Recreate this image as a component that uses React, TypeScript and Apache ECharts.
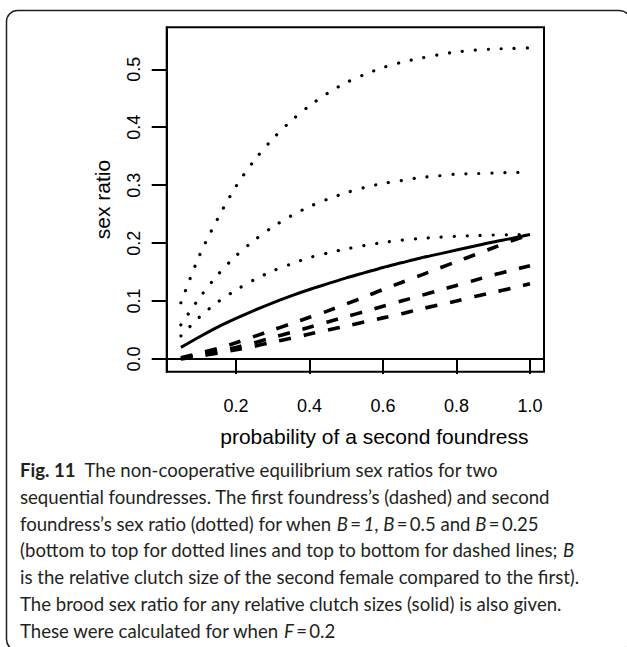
import React, { useEffect, useRef } from "react";
import * as echarts from "echarts";

const xValues = [0.05, 0.1, 0.15, 0.2, 0.25, 0.3, 0.35, 0.4, 0.45, 0.5, 0.55, 0.6, 0.65, 0.7, 0.75, 0.8, 0.85, 0.9, 0.95, 1.0];

// second foundress (dotted): B = 0.25 (top), 0.5, 1 (bottom)
const dottedTop = [0.097, 0.178, 0.242, 0.298, 0.343, 0.38, 0.411, 0.437, 0.459, 0.477, 0.491, 0.503, 0.512, 0.519, 0.525, 0.53, 0.533, 0.535, 0.536, 0.537];
const dottedMid = [0.059, 0.105, 0.145, 0.178, 0.205, 0.228, 0.247, 0.263, 0.276, 0.287, 0.296, 0.303, 0.308, 0.313, 0.316, 0.319, 0.32, 0.321, 0.322, 0.322];
const dottedLow = [0.04, 0.072, 0.098, 0.119, 0.137, 0.152, 0.164, 0.175, 0.183, 0.19, 0.196, 0.201, 0.205, 0.208, 0.21, 0.212, 0.213, 0.214, 0.2145, 0.215];
// brood (solid)
const solidBrood = [0.02, 0.038, 0.055, 0.07, 0.084, 0.097, 0.109, 0.12, 0.13, 0.14, 0.149, 0.158, 0.166, 0.174, 0.181, 0.188, 0.195, 0.202, 0.208, 0.215];
// first foundress (dashed): B = 1 (top), 0.5, 0.25 (bottom)
const dashedTop = [0.002, 0.01, 0.018, 0.028, 0.039, 0.05, 0.061, 0.072, 0.083, 0.095, 0.107, 0.12, 0.132, 0.144, 0.156, 0.168, 0.18, 0.192, 0.204, 0.215];
const dashedMid = [0.001, 0.006, 0.013, 0.02, 0.028, 0.037, 0.046, 0.055, 0.064, 0.073, 0.082, 0.091, 0.1, 0.109, 0.118, 0.127, 0.136, 0.145, 0.153, 0.161];
const dashedLow = [0.0, 0.005, 0.01, 0.016, 0.022, 0.029, 0.036, 0.043, 0.05, 0.057, 0.064, 0.071, 0.078, 0.086, 0.093, 0.1, 0.108, 0.115, 0.122, 0.13];

const xTicks = [0.2, 0.4, 0.6, 0.8, 1.0];
const yTicks = [0.0, 0.1, 0.2, 0.3, 0.4, 0.5];

const xTitle = "probability of a second foundress";
const yTitle = "sex ratio";

const captionLines = [
  "{b|Fig. 11}  The non-cooperative equilibrium sex ratios for two",
  "sequential foundresses. The first foundress\u2019s (dashed) and second",
  "foundress\u2019s sex ratio (dotted) for when {i|B}\u2009=\u2009{i|1}, {i|B}\u2009=\u20090.5 and {i|B}\u2009=\u20090.25",
  "(bottom to top for dotted lines and top to bottom for dashed lines; {i|B}",
  "is the relative clutch size of the second female compared to the first).",
  "The brood sex ratio for any relative clutch sizes (solid) is also given.",
  "These were calculated for when {i|F}\u2009=\u20090.2",
];

const toPairs = (ys: number[]) => xValues.map((x, i) => [x, ys[i]]);

const AXIS_FONT = "'Liberation Sans', Arial, sans-serif";
const CAP_FONT = "Lato, 'Open Sans', sans-serif";
const CAP_SIZE = 18.6;

export default function App() {
  const ref = useRef<HTMLDivElement>(null);
  useEffect(() => {
    document.body.style.margin = "0";
    const chart = echarts.init(ref.current!, undefined, { renderer: "svg" });
    const dotted = { color: "#000", width: 3.2, type: [0.1, 12.9], cap: "round" as const };
    const dashed = { color: "#000", width: 3.6, type: [12, 13], cap: "butt" as const };
    const mk = (name: string, ys: number[], lineStyle: any) => ({
      name,
      type: "line",
      data: toPairs(ys),
      showSymbol: false,
      symbol: "none",
      smooth: 0.3,
      lineStyle,
      z: 3,
    });
    const capRich = {
      b: { fontFamily: CAP_FONT, fontSize: CAP_SIZE, fontWeight: "bold", fill: "#231f20" },
      i: { fontFamily: CAP_FONT, fontSize: CAP_SIZE, fontStyle: "italic", fill: "#231f20" },
    };
    chart.setOption({
      animation: false,
      backgroundColor: "#fff",
      grid: {
        left: 166.7,
        top: 27.3,
        width: 377.3,
        height: 344.4,
        show: true,
        borderColor: "#000",
        borderWidth: 2,
        backgroundColor: "transparent",
        containLabel: false,
      },
      xAxis: {
        type: "value",
        min: 0.0114,
        max: 1.0381,
        name: xTitle,
        nameLocation: "middle",
        nameGap: 54,
        nameTextStyle: { fontFamily: AXIS_FONT, fontSize: 21, color: "#000", padding: [0, 0, 0, 38] },
        axisLine: { show: true, lineStyle: { color: "#000", width: 2 } },
        axisTick: { show: true, length: 15, lineStyle: { color: "#000", width: 2 }, customValues: xTicks },
        axisLabel: {
          show: true,
          customValues: xTicks,
          margin: 25,
          fontFamily: AXIS_FONT,
          fontSize: 18,
          color: "#000",
          formatter: (v: number) => v.toFixed(1),
        },
        splitLine: { show: false },
      },
      yAxis: {
        type: "value",
        min: -0.0219,
        max: 0.5725,
        name: yTitle,
        nameLocation: "middle",
        nameGap: 54,
        nameTextStyle: { fontFamily: AXIS_FONT, fontSize: 21, color: "#000" },
        axisLine: { show: true, lineStyle: { color: "#000", width: 2 } },
        axisTick: { show: true, length: 15, lineStyle: { color: "#000", width: 2 }, customValues: yTicks },
        axisLabel: {
          show: true,
          customValues: yTicks,
          rotate: 90,
          margin: 24,
          fontFamily: AXIS_FONT,
          fontSize: 18,
          color: "#000",
          formatter: (v: number) => v.toFixed(1),
        },
        splitLine: { show: false },
      },
      series: [
        mk("dotted B=0.25", dottedTop, dotted),
        mk("dotted B=0.5", dottedMid, dotted),
        mk("dotted B=1", dottedLow, dotted),
        mk("brood", solidBrood, { color: "#000", width: 3, type: "solid" }),
        mk("dashed B=1", dashedTop, dashed),
        mk("dashed B=0.5", dashedMid, dashed),
        mk("dashed B=0.25", dashedLow, dashed),
      ],
      graphic: [
        {
          type: "rect",
          shape: { x: 6.5, y: 10.5, width: 624, height: 640, r: 11 },
          style: { fill: "none", stroke: "#231f20", lineWidth: 1.5 },
          silent: true,
        },
        ...captionLines.map((t, i) => ({
          type: "text",
          x: 20,
          y: 470 + i * 26.8,
          style: {
            text: t,
            fontFamily: CAP_FONT,
            fontSize: CAP_SIZE,
            fill: "#231f20",
            verticalAlign: "middle",
            align: "left",
            rich: capRich,
          },
          silent: true,
        })),
      ],
    });
    return () => chart.dispose();
  }, []);
  return <div ref={ref} style={{ position: "fixed", left: 0, top: 0, width: 627, height: 647 }} />;
}
